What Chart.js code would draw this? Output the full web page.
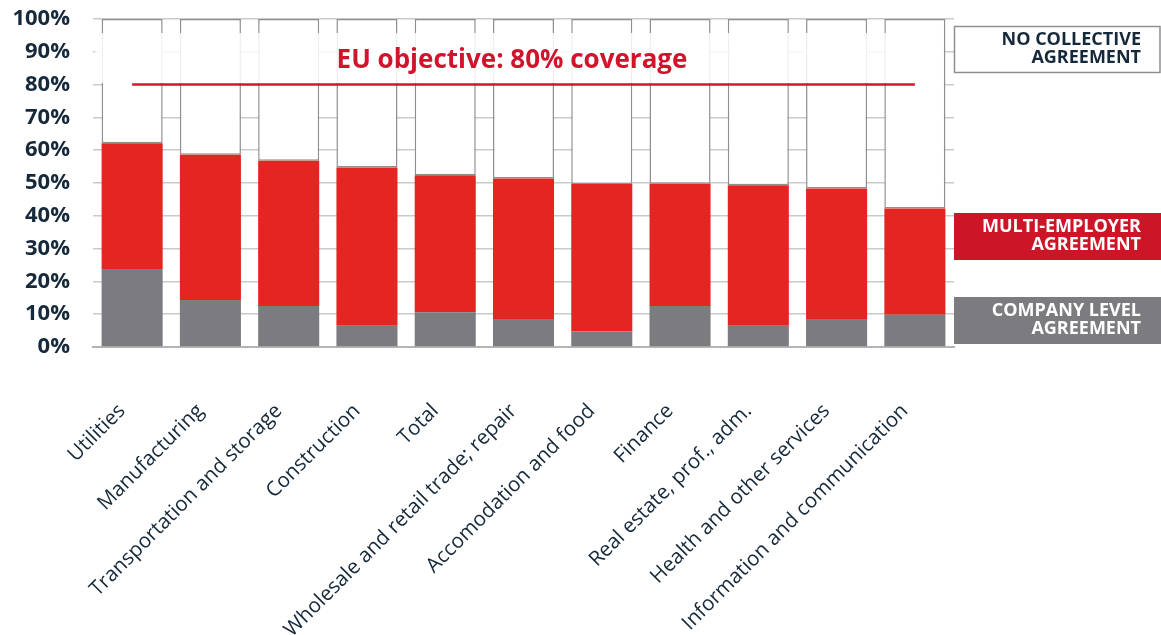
<html>
  <head>
    <script src="https://cdn.jsdelivr.net/npm/chart.js"></script>
    <style>
      body { margin: 0; background: #fff; }
    </style>
  </head>
  <body>
    <canvas id="myChart" width="1161" height="635"></canvas>
    <script>
      const categories = ['Utilities', 'Manufacturing', 'Transportation and storage', 'Construction', 'Total',
        'Wholesale and retail trade; repair', 'Accomodation and food', 'Finance', 'Real estate, prof., adm.',
        'Health and other services', 'Information and communication'];
      const companyLevel = [23.8, 14.3, 12.5, 6.5, 10.6, 8.5, 4.7, 12.5, 6.5, 8.5, 9.8];
      const multiEmployer = [38.3, 44.3, 44.3, 48.2, 41.8, 42.9, 45.0, 37.3, 42.8, 39.8, 32.4];
      const noCollective = [37.9, 41.4, 43.2, 45.3, 47.6, 48.6, 50.3, 50.2, 50.7, 51.7, 57.8];
      const yTicks = [0, 10, 20, 30, 40, 50, 60, 70, 80, 90, 100];
      const objective = 80;
      const objectiveLabel = 'EU objective: 80% coverage';
      const legendLabels = [
        ['NO COLLECTIVE', 'AGREEMENT'],
        ['MULTI-EMPLOYER', 'AGREEMENT'],
        ['COMPANY LEVEL', 'AGREEMENT']
      ];

      const navy = '#15293a';
      const font = '"Open Sans", sans-serif';

      // target line, title and the boxes on the right
      const overlay = {
        id: 'overlay',
        afterDatasetsDraw(chart) {
          const { ctx, scales: { x, y }, chartArea } = chart;
          ctx.save();
          ctx.fillStyle = 'rgba(255,255,255,0.85)';
          ctx.fillRect(chartArea.left + 2, 33, 840, 50);
          const yy = y.getPixelForValue(objective);
          ctx.strokeStyle = '#d0182c';
          ctx.lineWidth = 2.5;
          ctx.beginPath();
          ctx.moveTo(x.getPixelForValue(0), yy);
          ctx.lineTo(x.getPixelForValue(categories.length - 1), yy);
          ctx.stroke();
          ctx.font = 'bold 26px ' + font;
          ctx.textAlign = 'center';
          ctx.textBaseline = 'alphabetic';
          ctx.fillStyle = '#d0142c';
          ctx.fillText(objectiveLabel, 512, 68);
          ctx.restore();
        },
        afterDraw(chart) {
          const ctx = chart.ctx;
          const boxes = [
            { top: 26, fill: '#ffffff', stroke: '#8e8e93', text: navy },
            { top: 213, fill: '#cc1628', stroke: null, text: '#ffffff' },
            { top: 297, fill: '#7b7b80', stroke: null, text: '#ffffff' }
          ];
          ctx.save();
          boxes.forEach((b, i) => {
            ctx.fillStyle = b.fill;
            ctx.fillRect(954, b.top, 207, 47);
            if (b.stroke) {
              ctx.strokeStyle = b.stroke;
              ctx.lineWidth = 1.5;
              ctx.strokeRect(954.5, b.top + 0.5, 205.5, 46);
            }
            ctx.fillStyle = b.text;
            ctx.font = 'bold 18px ' + font;
            ctx.textAlign = 'right';
            ctx.textBaseline = 'alphabetic';
            ctx.fillText(legendLabels[i][0], 1141, b.top + 19);
            ctx.fillText(legendLabels[i][1], 1141, b.top + 37);
          });
          ctx.restore();
        }
      };

      const data = {
        labels: categories,
        datasets: [
          { label: 'Company level agreement', data: companyLevel, backgroundColor: '#7b7b80', borderWidth: 0 },
          { label: 'Multi-employer agreement', data: multiEmployer, backgroundColor: '#e42521', borderWidth: 0 },
          { label: 'No collective agreement', data: noCollective, backgroundColor: '#ffffff',
            borderColor: '#8e8e93', borderWidth: 1.5, borderSkipped: false }
        ]
      };

      const config = {
        type: 'bar',
        data: data,
        plugins: [overlay],
        options: {
          responsive: false,
          animation: false,
          layout: { padding: { top: 19, right: 207, left: 0, bottom: 0 } },
          datasets: { bar: { categoryPercentage: 1, barPercentage: 0.78 } },
          plugins: { legend: { display: false }, tooltip: { enabled: false } },
          scales: {
            x: {
              stacked: true,
              grid: { display: false },
              border: { color: '#b4b4b4', width: 2 },
              ticks: {
                color: navy, font: { family: font, size: 20.5 },
                minRotation: 45, maxRotation: 45, padding: 44, labelOffset: -10, autoSkip: false
              },
              afterFit: (scale) => { scale.height = 288; scale.paddingLeft = 0; scale.paddingRight = 0; }
            },
            y: {
              stacked: true,
              min: 0,
              max: 100,
              afterBuildTicks: (scale) => { scale.ticks = yTicks.map(v => ({ value: v })); },
              grid: { color: '#cacaca', lineWidth: 1.5, drawTicks: false },
              border: { display: false },
              ticks: {
                color: navy, font: { family: font, size: 22, weight: 'bold' }, padding: 23,
                callback: (v) => v + '%'
              },
              afterFit: (scale) => { scale.width = 93; scale.paddingTop = 0; scale.paddingBottom = 0; }
            }
          }
        }
      };

      const ctx = document.getElementById('myChart').getContext('2d');
      const myChart = new Chart(ctx, config);
    </script>
  </body>
</html>
